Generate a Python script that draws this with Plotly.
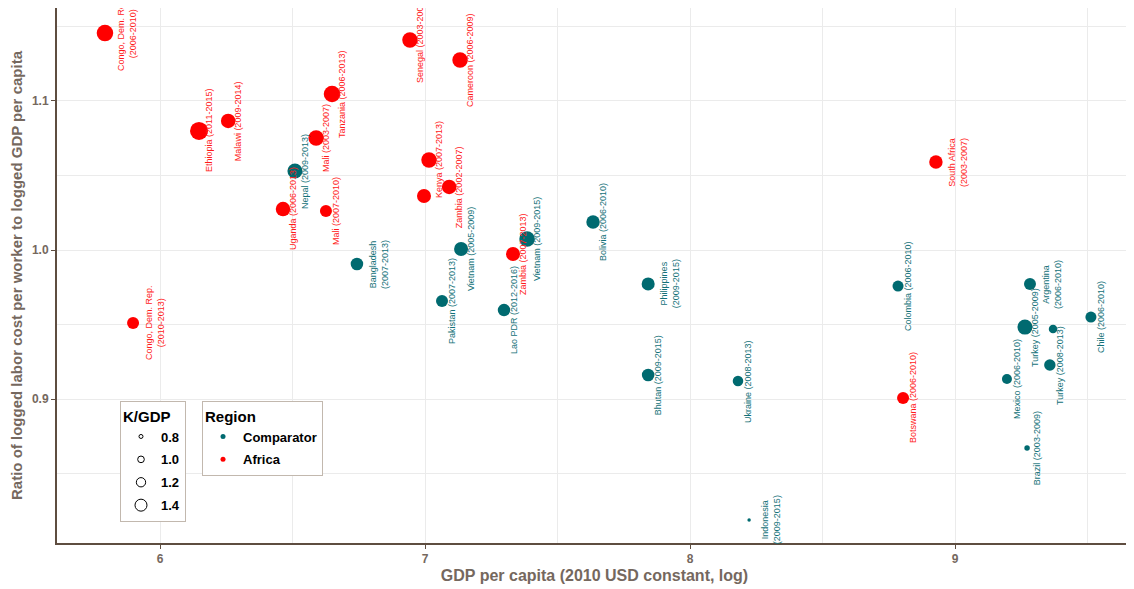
import plotly.graph_objects as go

# ---------------- data ----------------
africa_labels = ["Congo, Dem. Rep.<br>(2006-2010)", "Ethiopia (2011-2015)", "Malawi (2009-2014)",
                 "Mali (2003-2007)", "Tanzania (2006-2013)", "Senegal (2003-2007)",
                 "Cameroon (2006-2009)", "Kenya (2007-2013)", "Zambia (2002-2007)", "",
                 "Uganda (2006-2013)", "Mali (2007-2010)", "Zambia (2007-2013)",
                 "Congo, Dem. Rep.<br>(2010-2013)", "South Africa<br>(2003-2007)", "Botswana (2006-2010)"]
africa_gdp = [5.792, 6.147, 6.257, 6.589, 6.649, 6.943, 7.132, 7.015, 7.091, 6.996,
              6.464, 6.626, 7.332, 5.898, 8.928, 8.804]
africa_ratio = [1.1456, 1.0799, 1.0866, 1.0752, 1.1047, 1.1409, 1.1275, 1.0604, 1.0423, 1.0362,
                1.0275, 1.0262, 0.9973, 0.9510, 1.0590, 0.9007]
africa_kgdp = [1.74, 1.85, 1.59, 1.66, 1.74, 1.66, 1.66, 1.66, 1.59, 1.55,
               1.59, 1.40, 1.55, 1.40, 1.51, 1.40]

comp_labels = ["Nepal (2009-2013)", "Bangladesh<br>(2007-2013)", "Pakistan (2007-2013)",
               "Vietnam (2005-2009)", "Lao PDR (2012-2016)", "Vietnam (2009-2015)",
               "Bolivia (2006-2010)", "Philippines<br>(2009-2015)", "Bhutan (2009-2015)",
               "Ukraine (2008-2013)", "Indonesia<br>(2009-2015)", "Colombia (2006-2010)",
               "Mexico (2006-2010)", "Brazil (2003-2009)", "Turkey (2005-2009)",
               "Argentina<br>(2006-2010)", "Turkey (2008-2013)", "", "Chile (2006-2010)"]
comp_gdp = [6.509, 6.743, 7.064, 7.136, 7.298, 7.385, 7.634, 7.842, 7.842, 8.181,
            8.223, 8.785, 9.196, 9.272, 9.264, 9.283, 9.358, 9.370, 9.513]
comp_ratio = [1.0530, 0.9906, 0.9658, 1.0007, 0.9597, 1.0074, 1.0188, 0.9772, 0.9161, 0.9121,
              0.8188, 0.9758, 0.9134, 0.8671, 0.9483, 0.9772, 0.9228, 0.9470, 0.9550]
comp_kgdp = [1.63, 1.44, 1.40, 1.55, 1.44, 1.66, 1.51, 1.48, 1.44, 1.29,
             0.76, 1.33, 1.25, 0.91, 1.63, 1.40, 1.36, 1.14, 1.33]

size_legend = [0.8, 1.0, 1.2, 1.4]
x_ticks = [6, 7, 8, 9]
y_ticks = [0.9, 1.0, 1.1]

RED = "#ff0000"
TEAL = "#006a70"
AXIS = "#5e4d40"
TXT = "#75685e"


def kgdp_to_px(v):
    return 13.33 * v - 6.67


fig = go.Figure()

for lab, xs, ys, ks, col in [("Africa", africa_gdp, africa_ratio, africa_kgdp, RED),
                             ("Comparator", comp_gdp, comp_ratio, comp_kgdp, TEAL)]:
    fig.add_trace(go.Scatter(x=xs, y=ys, mode="markers", name=lab, showlegend=False,
                             marker=dict(color=col, size=[kgdp_to_px(k) for k in ks],
                                         line=dict(width=0), opacity=1)))

# labels
for labels, xs, ys, col in [(africa_labels, africa_gdp, africa_ratio, "#ff1a1a"),
                            (comp_labels, comp_gdp, comp_ratio, "#137178")]:
    for t, x, y in zip(labels, xs, ys):
        if not t:
            continue
        two = "<br>" in t
        fig.add_annotation(x=x, y=y, text=t, textangle=-90, showarrow=False,
                           xshift=22 if two else 10,
                           font=dict(family="Liberation Sans", size=9, color=col))

# size legend
for v in size_legend:
    fig.add_trace(go.Scatter(x=[None], y=[None], mode="markers", name=f"{v:.1f}",
                             legend="legend", legendgroup=f"k{v}",
                             marker=dict(color="white", size=kgdp_to_px(v),
                                         line=dict(color="black", width=1))))
# region legend
for name, col in [("Comparator", TEAL), ("Africa", RED)]:
    fig.add_trace(go.Scatter(x=[None], y=[None], mode="markers", name=name, legend="legend2",
                             legendgroup=name, marker=dict(color=col, size=5)))

legend_common = dict(bgcolor="white", bordercolor="#c2b8ae", borderwidth=1,
                     font=dict(family="Liberation Sans", size=13, color="black", weight="bold"),
                     xanchor="left", yanchor="top", itemsizing="trace", tracegroupgap=3)

# page body has an 8px margin: figure sits at (8, 8)
fig.update_layout(
    width=1126, height=581,
    margin=dict(l=49, r=2, t=0, b=46),
    paper_bgcolor="white", plot_bgcolor="white",
    legend=dict(**legend_common, x=0.0586, y=0.2654,
                title=dict(text="K/GDP", font=dict(family="Liberation Sans", size=15,
                                                    color="black", weight="bold"))),
    legend2=dict(**legend_common, x=0.1349, y=0.2654,
                 title=dict(text="Region", font=dict(family="Liberation Sans", size=15,
                                                     color="black", weight="bold"))),
    xaxis=dict(range=[5.611, 9.668], tickvals=x_ticks, ticktext=[str(v) for v in x_ticks],
               showgrid=True, gridcolor="#ebebeb", gridwidth=1,
               minor=dict(dtick=0.5, showgrid=True, gridcolor="#ebebeb", gridwidth=1),
               showline=True, linecolor=AXIS, linewidth=2, zeroline=False,
               ticks="outside", ticklen=4, tickcolor=AXIS, tickwidth=1,
               tickfont=dict(family="Liberation Sans", size=12, color=TXT, weight="bold"),
               title=dict(text="GDP per capita (2010 USD constant, log)", standoff=4,
                          font=dict(family="Liberation Sans", size=16, color=TXT, weight="bold")),
               automargin=False),
    yaxis=dict(range=[0.8034, 1.1624], tickvals=y_ticks, ticktext=[f"{v:.1f}" for v in y_ticks],
               showgrid=True, gridcolor="#ebebeb", gridwidth=1,
               minor=dict(dtick=0.05, showgrid=True, gridcolor="#ebebeb", gridwidth=1),
               showline=True, linecolor=AXIS, linewidth=2, zeroline=False,
               ticks="outside", ticklen=4, tickcolor=AXIS, tickwidth=1,
               tickfont=dict(family="Liberation Sans", size=12, color=TXT, weight="bold"),
               title=dict(text="Ratio of logged labor cost per worker to logged GDP per capita",
                          standoff=8,
                          font=dict(family="Liberation Sans", size=15, color=TXT, weight="bold")),
               automargin=False),
)

fig.write_html("out.html")
